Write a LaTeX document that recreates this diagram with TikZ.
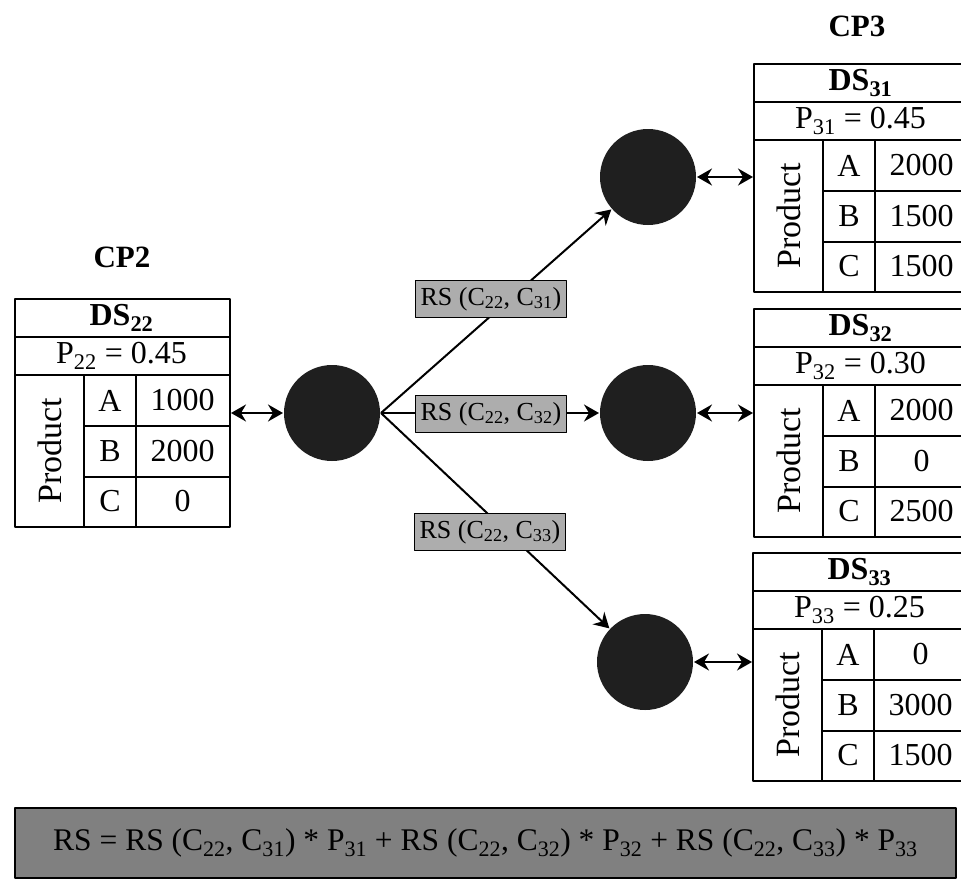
\documentclass[tikz,border=0pt]{standalone}
\usepackage{fontspec}
\setmainfont{Liberation Serif}
\usetikzlibrary{arrows.meta}

\tikzset{
  tabline/.style={line width=2pt},
  cell/.style={font=\fontsize{32}{34}\selectfont, inner sep=0pt},
  decision/.style={circle, fill=black!88, minimum size=96pt, inner sep=0pt},
  rsbox/.style={draw, line width=1.6pt, fill=black!32, font=\fontsize{26}{28}\selectfont,
    minimum width=151pt, minimum height=37pt, inner sep=1pt},
  formula/.style={draw, line width=2pt, fill=black!50, font=\fontsize{31.5}{34}\selectfont,
    minimum width=941pt, minimum height=70pt},
  cplabel/.style={font=\fontsize{31}{34}\selectfont\bfseries}
}

% #1 name, (#2,#3) top left corner, #4 index, #5 probability, #6-#8 values of A, B, C
\newcommand{\dstable}[8]{%
  \node[draw, tabline, anchor=north west, minimum width=215pt, minimum height=228pt, inner sep=0pt] (#1) at (#2,#3) {};
  \begin{scope}[shift={(#2,#3)}]
    \draw[tabline] (0,39) -- (215,39) (0,77) -- (215,77);
    \draw[tabline] (70,77) -- (70,228) (122,77) -- (122,228);
    \draw[tabline] (70,128) -- (215,128) (70,179) -- (215,179);
    \node[cell, font=\fontsize{32}{34}\selectfont\bfseries] (#1-name) at (107.5,20) {DS\textsubscript{#4}};
    \node[cell] (#1-p) at (107.5,58) {P\textsubscript{#4} = #5};
    \node[cell, font=\fontsize{34}{36}\selectfont, rotate=90] (#1-prod) at (36,152.5) {Product};
    \foreach \r/\v/\y in {A/#6/102.5,B/#7/153.5,C/#8/203.5}{
      \node[cell] (#1-\r) at (96,\y) {\r};
      \node[cell] (#1-v\r) at (168.5,\y) {\v};
    }
  \end{scope}}

\begin{document}
\begin{tikzpicture}[x=1pt, y=-1pt, line join=round, line width=2pt,
    >={Stealth[length=15pt,width=17pt,inset=5pt]}]
  \useasboundingbox (0,0) rectangle (961,879);
  \node[cplabel] (cp2) at (122,257) {CP2};
  \node[cplabel] (cp3) at (857,26) {CP3};
  % decision tables
  \dstable{ds22}{14}{298}{22}{0.45}{1000}{2000}{0}
  \dstable{ds31}{753}{63}{31}{0.45}{2000}{1500}{1500}
  \dstable{ds32}{753}{308}{32}{0.30}{2000}{0}{2500}
  \dstable{ds33}{752}{552}{33}{0.25}{0}{3000}{1500}
  % decision nodes
  \node[decision] (c22) at (332,413) {};
  \node[decision] (c31) at (648,177) {};
  \node[decision] (c32) at (648,413) {};
  \node[decision] (c33) at (645,662) {};
  \draw[<->] (c22.west -| ds22.east) -- (c22.west);
  \foreach \n in {31,32,33}
    \draw[<->] (c\n.east) -- (c\n.east -| ds\n.west);
  \foreach \n in {31,32,33}
    \draw[->] (c22.east) -- (c\n);
  \node[rsbox] (rs31) at (491,299) {RS (C\textsubscript{22}, C\textsubscript{31})};
  \node[rsbox] (rs32) at (491,414) {RS (C\textsubscript{22}, C\textsubscript{32})};
  \node[rsbox] (rs33) at (490,532) {RS (C\textsubscript{22}, C\textsubscript{33})};
  \node[formula] (rs) at (485.5,843) {RS = RS (C\textsubscript{22}, C\textsubscript{31}) * P\textsubscript{31} + RS (C\textsubscript{22}, C\textsubscript{32}) * P\textsubscript{32} + RS (C\textsubscript{22}, C\textsubscript{33}) * P\textsubscript{33}};
\end{tikzpicture}
\end{document}
